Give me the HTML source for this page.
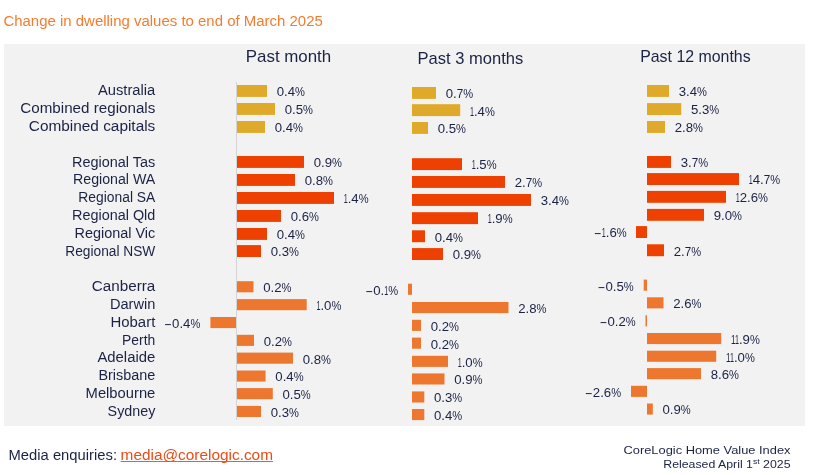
<!DOCTYPE html>
<html lang="en"><head><meta charset="utf-8"><title>Change in dwelling values to end of March 2025</title>
<style>html,body{margin:0;padding:0;background:#fff}body{width:818px;height:475px;overflow:hidden}svg{display:block}text{font-family:"Liberation Sans", sans-serif;fill:#1c2244}.t{font-size:14px;fill:#f47c2e}.h{font-size:15.9px}.l{font-size:14px;text-anchor:end}.v{font-size:13.2px}.f{font-size:14px}.r{font-size:11.4px;text-anchor:end}.a{fill:#ee4a14}</style></head><body>
<svg width="818" height="475" viewBox="0 0 818 475">
<rect x="0" y="0" width="818" height="475" fill="#ffffff"/>
<rect x="4" y="44" width="801" height="382" fill="#f2f2f2"/>
<text class="t" x="3.4" y="26.3" textLength="319.4" lengthAdjust="spacingAndGlyphs">Change in dwelling values to end of March 2025</text>
<text class="h" x="245.8" y="62" textLength="85.4" lengthAdjust="spacingAndGlyphs">Past month</text>
<text class="h" x="417.6" y="63.8" textLength="105.6" lengthAdjust="spacingAndGlyphs">Past 3 months</text>
<text class="h" x="640.2" y="62" textLength="110.4" lengthAdjust="spacingAndGlyphs">Past 12 months</text>
<rect x="236" y="82" width="1" height="338" fill="#d4d4d4"/>
<text class="l" x="155.3" y="95.4" textLength="57.4" lengthAdjust="spacingAndGlyphs">Australia</text>
<text class="l" x="155.3" y="113.2" textLength="135.0" lengthAdjust="spacingAndGlyphs">Combined regionals</text>
<text class="l" x="155.3" y="131.0" textLength="126.5" lengthAdjust="spacingAndGlyphs">Combined capitals</text>
<text class="l" x="155.3" y="166.6" textLength="83.3" lengthAdjust="spacingAndGlyphs">Regional Tas</text>
<text class="l" x="155.3" y="184.4" textLength="82.3" lengthAdjust="spacingAndGlyphs">Regional WA</text>
<text class="l" x="155.3" y="202.2" textLength="77.0" lengthAdjust="spacingAndGlyphs">Regional SA</text>
<text class="l" x="155.3" y="220.0" textLength="83.3" lengthAdjust="spacingAndGlyphs">Regional Qld</text>
<text class="l" x="155.3" y="237.8" textLength="80.8" lengthAdjust="spacingAndGlyphs">Regional Vic</text>
<text class="l" x="155.3" y="255.6" textLength="90.0" lengthAdjust="spacingAndGlyphs">Regional NSW</text>
<text class="l" x="155.3" y="291.2" textLength="63.5" lengthAdjust="spacingAndGlyphs">Canberra</text>
<text class="l" x="155.3" y="309.0" textLength="45.4" lengthAdjust="spacingAndGlyphs">Darwin</text>
<text class="l" x="155.3" y="326.8" textLength="44.8" lengthAdjust="spacingAndGlyphs">Hobart</text>
<text class="l" x="155.3" y="344.6" textLength="33.2" lengthAdjust="spacingAndGlyphs">Perth</text>
<text class="l" x="155.3" y="362.4" textLength="57.9" lengthAdjust="spacingAndGlyphs">Adelaide</text>
<text class="l" x="155.3" y="380.2" textLength="56.9" lengthAdjust="spacingAndGlyphs">Brisbane</text>
<text class="l" x="155.3" y="398.0" textLength="69.7" lengthAdjust="spacingAndGlyphs">Melbourne</text>
<text class="l" x="155.3" y="415.8" textLength="47.7" lengthAdjust="spacingAndGlyphs">Sydney</text>
<rect x="237.0" y="85.00" width="30.0" height="11.9" fill="#dfaa2a"/>
<text class="v" x="276.7" y="96.2">0.4<tspan textLength="9.9" lengthAdjust="spacingAndGlyphs">%</tspan></text>
<rect x="237.0" y="103.00" width="38.0" height="11.9" fill="#dfaa2a"/>
<text class="v" x="284.7" y="114.2">0.5<tspan textLength="9.9" lengthAdjust="spacingAndGlyphs">%</tspan></text>
<rect x="237.0" y="121.00" width="28.0" height="11.9" fill="#dfaa2a"/>
<text class="v" x="274.7" y="132.2">0.4<tspan textLength="9.9" lengthAdjust="spacingAndGlyphs">%</tspan></text>
<rect x="237.0" y="156.00" width="67.0" height="11.9" fill="#ee4000"/>
<text class="v" x="313.7" y="167.2">0.9<tspan textLength="9.9" lengthAdjust="spacingAndGlyphs">%</tspan></text>
<rect x="237.0" y="174.00" width="58.0" height="11.9" fill="#ee4000"/>
<text class="v" x="304.7" y="185.2">0.8<tspan textLength="9.9" lengthAdjust="spacingAndGlyphs">%</tspan></text>
<rect x="237.0" y="192.00" width="97.0" height="11.9" fill="#ee4000"/>
<text class="v" x="343.7" y="203.2"><tspan textLength="4.0" lengthAdjust="spacingAndGlyphs">1</tspan>.4<tspan textLength="9.9" lengthAdjust="spacingAndGlyphs">%</tspan></text>
<rect x="237.0" y="210.00" width="44.0" height="11.9" fill="#ee4000"/>
<text class="v" x="290.7" y="221.2">0.6<tspan textLength="9.9" lengthAdjust="spacingAndGlyphs">%</tspan></text>
<rect x="237.0" y="228.00" width="30.0" height="11.9" fill="#ee4000"/>
<text class="v" x="276.7" y="239.2">0.4<tspan textLength="9.9" lengthAdjust="spacingAndGlyphs">%</tspan></text>
<rect x="237.0" y="245.10" width="24.0" height="11.9" fill="#ee4000"/>
<text class="v" x="270.7" y="256.3">0.3<tspan textLength="9.9" lengthAdjust="spacingAndGlyphs">%</tspan></text>
<rect x="237.0" y="281.20" width="16.5" height="11.1" fill="#ee7730"/>
<text class="v" x="263.2" y="292.1">0.2<tspan textLength="9.9" lengthAdjust="spacingAndGlyphs">%</tspan></text>
<rect x="237.0" y="299.10" width="69.7" height="11.1" fill="#ee7730"/>
<text class="v" x="316.4" y="310.0"><tspan textLength="4.0" lengthAdjust="spacingAndGlyphs">1</tspan>.0<tspan textLength="9.9" lengthAdjust="spacingAndGlyphs">%</tspan></text>
<rect x="210.4" y="317.00" width="25.6" height="11.1" fill="#ee7730"/>
<text class="v" x="164.1" y="327.9"><tspan textLength="8.0" lengthAdjust="spacingAndGlyphs">-</tspan>0.4<tspan textLength="9.9" lengthAdjust="spacingAndGlyphs">%</tspan></text>
<rect x="237.0" y="334.80" width="17.0" height="11.1" fill="#ee7730"/>
<text class="v" x="263.7" y="345.7">0.2<tspan textLength="9.9" lengthAdjust="spacingAndGlyphs">%</tspan></text>
<rect x="237.0" y="352.60" width="56.0" height="11.1" fill="#ee7730"/>
<text class="v" x="302.7" y="363.5">0.8<tspan textLength="9.9" lengthAdjust="spacingAndGlyphs">%</tspan></text>
<rect x="237.0" y="370.50" width="28.6" height="11.1" fill="#ee7730"/>
<text class="v" x="275.3" y="381.4">0.4<tspan textLength="9.9" lengthAdjust="spacingAndGlyphs">%</tspan></text>
<rect x="237.0" y="388.10" width="35.8" height="11.1" fill="#ee7730"/>
<text class="v" x="282.5" y="399.0">0.5<tspan textLength="9.9" lengthAdjust="spacingAndGlyphs">%</tspan></text>
<rect x="237.0" y="405.90" width="24.0" height="11.1" fill="#ee7730"/>
<text class="v" x="270.7" y="416.8">0.3<tspan textLength="9.9" lengthAdjust="spacingAndGlyphs">%</tspan></text>
<rect x="412.0" y="87.00" width="24.0" height="11.9" fill="#dfaa2a"/>
<text class="v" x="445.7" y="98.2">0.<tspan textLength="6.5" lengthAdjust="spacingAndGlyphs">7</tspan><tspan textLength="9.9" lengthAdjust="spacingAndGlyphs">%</tspan></text>
<rect x="412.0" y="104.20" width="48.2" height="11.9" fill="#dfaa2a"/>
<text class="v" x="469.9" y="115.5"><tspan textLength="4.0" lengthAdjust="spacingAndGlyphs">1</tspan>.4<tspan textLength="9.9" lengthAdjust="spacingAndGlyphs">%</tspan></text>
<rect x="412.0" y="122.00" width="16.0" height="11.9" fill="#dfaa2a"/>
<text class="v" x="437.7" y="133.2">0.5<tspan textLength="9.9" lengthAdjust="spacingAndGlyphs">%</tspan></text>
<rect x="412.0" y="158.20" width="50.0" height="11.9" fill="#ee4000"/>
<text class="v" x="471.7" y="169.4"><tspan textLength="4.0" lengthAdjust="spacingAndGlyphs">1</tspan>.5<tspan textLength="9.9" lengthAdjust="spacingAndGlyphs">%</tspan></text>
<rect x="412.0" y="176.00" width="93.0" height="11.9" fill="#ee4000"/>
<text class="v" x="514.7" y="187.2">2.<tspan textLength="6.5" lengthAdjust="spacingAndGlyphs">7</tspan><tspan textLength="9.9" lengthAdjust="spacingAndGlyphs">%</tspan></text>
<rect x="412.0" y="194.00" width="119.0" height="11.9" fill="#ee4000"/>
<text class="v" x="540.7" y="205.2">3.4<tspan textLength="9.9" lengthAdjust="spacingAndGlyphs">%</tspan></text>
<rect x="412.0" y="212.20" width="66.0" height="11.9" fill="#ee4000"/>
<text class="v" x="487.7" y="223.4"><tspan textLength="4.0" lengthAdjust="spacingAndGlyphs">1</tspan>.9<tspan textLength="9.9" lengthAdjust="spacingAndGlyphs">%</tspan></text>
<rect x="412.0" y="230.30" width="13.0" height="11.9" fill="#ee4000"/>
<text class="v" x="434.7" y="241.6">0.4<tspan textLength="9.9" lengthAdjust="spacingAndGlyphs">%</tspan></text>
<rect x="412.0" y="248.10" width="31.0" height="11.9" fill="#ee4000"/>
<text class="v" x="452.7" y="259.3">0.9<tspan textLength="9.9" lengthAdjust="spacingAndGlyphs">%</tspan></text>
<rect x="408.0" y="283.70" width="4.0" height="11.1" fill="#ee7730"/>
<text class="v" x="365.2" y="294.6"><tspan textLength="8.0" lengthAdjust="spacingAndGlyphs">-</tspan>0.<tspan textLength="4.0" lengthAdjust="spacingAndGlyphs">1</tspan><tspan textLength="9.9" lengthAdjust="spacingAndGlyphs">%</tspan></text>
<rect x="412.0" y="302.00" width="96.5" height="11.1" fill="#ee7730"/>
<text class="v" x="518.2" y="312.9">2.8<tspan textLength="9.9" lengthAdjust="spacingAndGlyphs">%</tspan></text>
<rect x="412.0" y="319.80" width="9.0" height="11.1" fill="#ee7730"/>
<text class="v" x="430.7" y="330.7">0.2<tspan textLength="9.9" lengthAdjust="spacingAndGlyphs">%</tspan></text>
<rect x="412.0" y="337.60" width="9.0" height="11.1" fill="#ee7730"/>
<text class="v" x="430.7" y="348.5">0.2<tspan textLength="9.9" lengthAdjust="spacingAndGlyphs">%</tspan></text>
<rect x="412.0" y="355.80" width="36.0" height="11.1" fill="#ee7730"/>
<text class="v" x="457.7" y="366.7"><tspan textLength="4.0" lengthAdjust="spacingAndGlyphs">1</tspan>.0<tspan textLength="9.9" lengthAdjust="spacingAndGlyphs">%</tspan></text>
<rect x="412.0" y="373.40" width="32.5" height="11.1" fill="#ee7730"/>
<text class="v" x="454.2" y="384.2">0.9<tspan textLength="9.9" lengthAdjust="spacingAndGlyphs">%</tspan></text>
<rect x="412.0" y="391.40" width="12.3" height="11.1" fill="#ee7730"/>
<text class="v" x="434.0" y="402.2">0.3<tspan textLength="9.9" lengthAdjust="spacingAndGlyphs">%</tspan></text>
<rect x="412.0" y="409.00" width="12.3" height="11.1" fill="#ee7730"/>
<text class="v" x="434.0" y="419.9">0.4<tspan textLength="9.9" lengthAdjust="spacingAndGlyphs">%</tspan></text>
<rect x="647.0" y="85.00" width="22.0" height="11.9" fill="#dfaa2a"/>
<text class="v" x="678.7" y="96.2">3.4<tspan textLength="9.9" lengthAdjust="spacingAndGlyphs">%</tspan></text>
<rect x="647.0" y="103.10" width="34.2" height="11.9" fill="#dfaa2a"/>
<text class="v" x="690.9" y="114.3">5.3<tspan textLength="9.9" lengthAdjust="spacingAndGlyphs">%</tspan></text>
<rect x="647.0" y="121.00" width="18.0" height="11.9" fill="#dfaa2a"/>
<text class="v" x="674.7" y="132.2">2.8<tspan textLength="9.9" lengthAdjust="spacingAndGlyphs">%</tspan></text>
<rect x="647.0" y="156.00" width="24.0" height="11.9" fill="#ee4000"/>
<text class="v" x="680.7" y="167.2">3.<tspan textLength="6.5" lengthAdjust="spacingAndGlyphs">7</tspan><tspan textLength="9.9" lengthAdjust="spacingAndGlyphs">%</tspan></text>
<rect x="647.0" y="173.10" width="92.0" height="11.9" fill="#ee4000"/>
<text class="v" x="748.7" y="184.3"><tspan textLength="4.0" lengthAdjust="spacingAndGlyphs">1</tspan>4.<tspan textLength="6.5" lengthAdjust="spacingAndGlyphs">7</tspan><tspan textLength="9.9" lengthAdjust="spacingAndGlyphs">%</tspan></text>
<rect x="647.0" y="190.90" width="79.0" height="11.9" fill="#ee4000"/>
<text class="v" x="735.7" y="202.2"><tspan textLength="4.0" lengthAdjust="spacingAndGlyphs">1</tspan>2.6<tspan textLength="9.9" lengthAdjust="spacingAndGlyphs">%</tspan></text>
<rect x="647.0" y="208.90" width="57.0" height="11.9" fill="#ee4000"/>
<text class="v" x="713.7" y="220.2">9.0<tspan textLength="9.9" lengthAdjust="spacingAndGlyphs">%</tspan></text>
<rect x="636.0" y="226.10" width="11.0" height="11.9" fill="#ee4000"/>
<text class="v" x="593.8" y="237.3"><tspan textLength="8.0" lengthAdjust="spacingAndGlyphs">-</tspan><tspan textLength="4.0" lengthAdjust="spacingAndGlyphs">1</tspan>.6<tspan textLength="9.9" lengthAdjust="spacingAndGlyphs">%</tspan></text>
<rect x="647.0" y="244.30" width="17.0" height="11.9" fill="#ee4000"/>
<text class="v" x="673.7" y="255.6">2.<tspan textLength="6.5" lengthAdjust="spacingAndGlyphs">7</tspan><tspan textLength="9.9" lengthAdjust="spacingAndGlyphs">%</tspan></text>
<rect x="643.7" y="279.60" width="3.3" height="11.1" fill="#ee7730"/>
<text class="v" x="597.5" y="290.5"><tspan textLength="8.0" lengthAdjust="spacingAndGlyphs">-</tspan>0.5<tspan textLength="9.9" lengthAdjust="spacingAndGlyphs">%</tspan></text>
<rect x="647.0" y="297.30" width="16.5" height="11.1" fill="#ee7730"/>
<text class="v" x="673.2" y="308.2">2.6<tspan textLength="9.9" lengthAdjust="spacingAndGlyphs">%</tspan></text>
<rect x="645.5" y="315.30" width="1.5" height="11.1" fill="#ee7730"/>
<text class="v" x="599.5" y="326.2"><tspan textLength="8.0" lengthAdjust="spacingAndGlyphs">-</tspan>0.2<tspan textLength="9.9" lengthAdjust="spacingAndGlyphs">%</tspan></text>
<rect x="647.0" y="333.00" width="74.2" height="11.1" fill="#ee7730"/>
<text class="v" x="730.9" y="343.9"><tspan textLength="4.0" lengthAdjust="spacingAndGlyphs">1</tspan><tspan textLength="4.0" lengthAdjust="spacingAndGlyphs">1</tspan>.9<tspan textLength="9.9" lengthAdjust="spacingAndGlyphs">%</tspan></text>
<rect x="647.0" y="350.70" width="69.2" height="11.1" fill="#ee7730"/>
<text class="v" x="725.9" y="361.6"><tspan textLength="4.0" lengthAdjust="spacingAndGlyphs">1</tspan><tspan textLength="4.0" lengthAdjust="spacingAndGlyphs">1</tspan>.0<tspan textLength="9.9" lengthAdjust="spacingAndGlyphs">%</tspan></text>
<rect x="647.0" y="368.10" width="54.0" height="11.1" fill="#ee7730"/>
<text class="v" x="710.7" y="379.0">8.6<tspan textLength="9.9" lengthAdjust="spacingAndGlyphs">%</tspan></text>
<rect x="631.0" y="385.80" width="16.0" height="11.1" fill="#ee7730"/>
<text class="v" x="584.8" y="396.7"><tspan textLength="8.0" lengthAdjust="spacingAndGlyphs">-</tspan>2.6<tspan textLength="9.9" lengthAdjust="spacingAndGlyphs">%</tspan></text>
<rect x="647.0" y="403.50" width="5.8" height="11.1" fill="#ee7730"/>
<text class="v" x="662.5" y="414.4">0.9<tspan textLength="9.9" lengthAdjust="spacingAndGlyphs">%</tspan></text>
<text class="f" x="8.5" y="460.3" textLength="108.5" lengthAdjust="spacingAndGlyphs">Media enquiries:</text>
<text class="f a" x="120.6" y="460.3" textLength="152.4" lengthAdjust="spacingAndGlyphs">media@corelogic.com</text>
<rect x="120.6" y="461.1" width="152.4" height="0.9" fill="#ee4a14"/>
<text class="r" x="790.5" y="454.4" textLength="167" lengthAdjust="spacingAndGlyphs">CoreLogic Home Value Index</text>
<text class="r" x="790.5" y="468.4" textLength="127.2" lengthAdjust="spacingAndGlyphs">Released April 1<tspan font-size="8" dy="-4">st</tspan><tspan dy="4"> 2025</tspan></text>
</svg></body></html>
